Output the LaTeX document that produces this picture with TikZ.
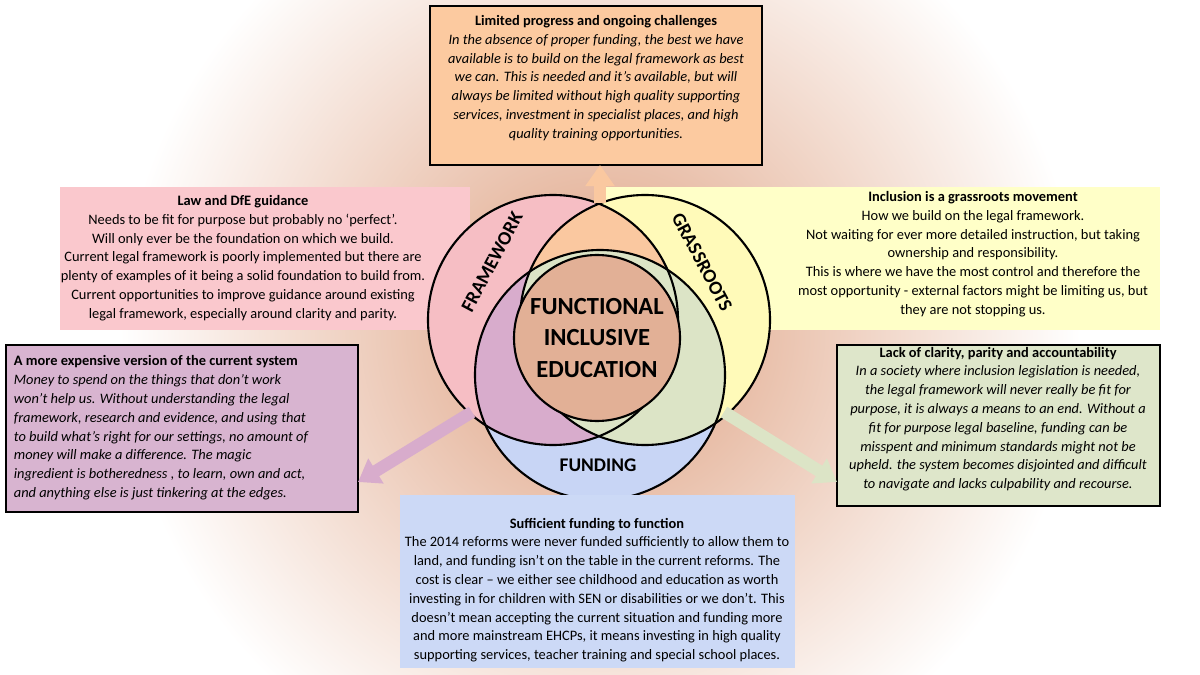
\documentclass[tikz,border=0pt]{standalone}
\usepackage{fontspec}
\setmainfont{Carlito}
\usetikzlibrary{arrows.meta}
\definecolor{glowc}{RGB}{222,160,128}
\definecolor{pinkc}{RGB}{246,190,196}
\definecolor{yellowc}{RGB}{255,250,185}
\definecolor{bluec}{RGB}{200,213,245}
\definecolor{orangec}{RGB}{250,200,160}
\definecolor{mauvec}{RGB}{216,172,204}
\definecolor{greenc}{RGB}{220,228,198}
\definecolor{brownc}{RGB}{226,176,150}
\definecolor{topbox}{RGB}{252,202,160}
\definecolor{lawbox}{RGB}{250,200,205}
\definecolor{grassbox}{RGB}{255,255,200}
\definecolor{expbox}{RGB}{216,180,208}
\definecolor{lackbox}{RGB}{222,230,202}
\definecolor{fundbox}{RGB}{204,217,246}
\tikzset{
  txt/.style = {font=\fontsize{8.2}{10.7}\selectfont, inner sep=2pt, align=center},
  itl/.style = {txt, font=\fontsize{8.2}{10.7}\selectfont\itshape},
  box/.style = {draw=black, line width=0.8pt},
  ring/.style = {draw=black, line width=1.2pt},
  fat/.style = {line width=7pt, -{Triangle[width=16pt,length=12pt]}},
  lbl/.style = {font=\fontsize{11}{13}\selectfont\bfseries}
}
\begin{document}
\begin{tikzpicture}[x=0.02cm, y=-0.02cm]
  \useasboundingbox (0,0) rectangle (1200,675);

  % GLOW
  \shade[inner color=glowc, outer color=white] (600,330) circle (480);

  % BACK BOXES
  \fill[lawbox] (60,187) rectangle (470,330);
  \fill[grassbox] (600,187) rectangle (1160,330);
  \node[txt] (law) at (243,258)
    {\textbf{Law and DfE guidance}\\Needs to be fit for purpose but probably no ‘perfect’.\\Will only ever be the foundation on which we build.\\Current legal framework is poorly implemented but there are\\plenty of examples of it being a solid foundation to build from.\\Current opportunities to improve guidance around existing\\legal framework, especially around clarity and parity.};
  \node[txt] (grass) at (973,254)
    {\textbf{Inclusion is a grassroots movement}\\How we build on the legal framework.\\Not waiting for ever more detailed instruction, but taking\\ownership and responsibility.\\This is where we have the most control and therefore the\\most opportunity - external factors might be limiting us, but\\they are not stopping us.};

  % DEF POINTS
  \coordinate (cl) at (553,320);
  \coordinate (cr) at (645,320);
  \coordinate (cb) at (600,375);
  \coordinate (cc) at (597,338);

  % CIRCLES
  \fill[pinkc] (cl) circle (125);
  \fill[yellowc] (cr) circle (125);
  \fill[bluec] (cb) circle (125);
  \begin{scope}
    \clip (cl) circle (125);
    \fill[orangec] (cr) circle (125);
    \fill[mauvec] (cb) circle (125);
  \end{scope}
  \begin{scope}
    \clip (cr) circle (125);
    \fill[greenc] (cb) circle (125);
  \end{scope}
  \draw[ring] (cl) circle (125);
  \draw[ring] (cr) circle (125);
  \draw[ring] (cb) circle (125);
  \draw[ring, fill=brownc] (cc) circle (83);

  % LABELS
  \node[lbl, rotate=62] (fw) at (492,262) {FRAMEWORK};
  \node[lbl, rotate=-62] (gr) at (702,262) {GRASSROOTS};
  \node[lbl] (fu) at (598,465) {FUNDING};
  \node[lbl, align=center, font=\fontsize{14}{18}\selectfont\bfseries] (core) at (cc) {FUNCTIONAL\\INCLUSIVE\\EDUCATION};

  % BOXES
  \draw[box, fill=topbox] (430,6) rectangle (762,165);
  \node[itl] (limited) at (596,78)
    {\textbf{\upshape Limited progress and ongoing challenges}\\In the absence of proper funding, the best we have\\available is to build on the legal framework as best\\we can.  This is needed and it’s available, but will\\always be limited without high quality supporting\\services, investment in specialist places, and high\\quality training opportunities.};
  \draw[box, fill=expbox] (6,345) rectangle (358,512);
  \node[itl, align=left, anchor=north west] (costly) at (10,352)
    {\textbf{\upshape A more expensive version of the current system}\\Money to spend on the things that don’t work\\won’t help us.  Without understanding the legal\\framework, research and evidence, and using that\\to build what’s right for our settings, no amount of\\money will make a difference. The magic\\ingredient is botheredness , to learn, own and act,\\and anything else is just tinkering at the edges.};
  \draw[box, fill=lackbox] (837,345) rectangle (1160,506);
  \node[itl] (lack) at (998,419)
    {\textbf{\upshape Lack of clarity, parity and accountability}\\In a society where inclusion legislation is needed,\\the legal framework will never really be fit for\\purpose, it is always a means to an end.  Without a\\fit for purpose legal baseline, funding can be\\misspent and minimum standards might not be\\upheld. the system becomes disjointed and difficult\\to navigate and lacks culpability and recourse.};
  \fill[fundbox] (400,495) rectangle (795,668);
  \node[txt] (fund) at (597,590)
    {\textbf{Sufficient funding to function}\\The 2014 reforms were never funded sufficiently to allow them to\\land, and funding isn’t on the table in the current reforms.  The\\cost is clear – we either see childhood and education as worth\\investing in for children with SEN or disabilities or we don’t.  This\\doesn’t mean accepting the current situation and funding more\\and more mainstream EHCPs, it means investing in high quality\\supporting services, teacher training and special school places.};

  % ARROWS
  \coordinate (aTop) at (600,203);
  \coordinate (aLeft) at (472,412);
  \coordinate (aRight) at (724,412);
  \coordinate (eTop) at (600,165);
  \coordinate (eLeft) at (358,482);
  \coordinate (eRight) at (837,482);
  \draw[fat, draw=orangec, fill=orangec] (aTop) -- (eTop);
  \draw[fat, draw=mauvec, fill=mauvec] (aLeft) -- (eLeft);
  \draw[fat, draw=greenc, fill=greenc] (aRight) -- (eRight);
\end{tikzpicture}
\end{document}
